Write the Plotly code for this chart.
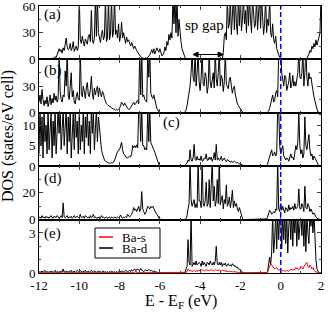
import plotly.graph_objects as go
from plotly.subplots import make_subplots

# ---------------- data (DOS sampled every 0.05 eV from -12 to 2) ----------------
STEP = 0.05

dos_a = ([0,0,0,0,0, 0,0,0,0,0, 0,0,0,0.5,1, 2,3,2,5,8] +
         [12,9,11,7,13, 10,16,24,14,11, 12,18,10,13,20, 9,12,15,10,14] +
         [70,22,18,26,20, 15,23,19,17,26, 28,20,55,22,18, 24,70,26,70,30] +
         [24,19,28,33,22, 26,70,20,24,70, 22,28,70,25,30, 70,28,33,24,40] +
         [20,26,42,24,30, 22,18,25,20,22, 17,15,19,14,12, 15,11,10,8,6] +
         [4,3,2,1,1, 1,2,1,2,3, 5,8,11,7,12, 6,9,13,10,8] +
         [12,6,4,5,7, 14,10,20,16,28, 22,30,24,70,40, 70,30,70,26,45] +
         [28,20,12,8,4, 2,1,0,0,0, 0,0,0,0,0, 0,0,0,0,0] +
         [0,0,0,0,0, 0,0,0,0,0, 0,0,0,0,0, 0,0,0,0,0] +
         [0,0,0,8,26, 30,22,70,35,40, 70,28,45,70,33, 70,40,28,70,38] +
         [70,32,45,70,40, 55,30,70,38,70, 45,30,70,55,36, 40,70,33,48,70] +
         [35,70,48,28,40, 70,30,45,38,70, 30,25,40,22,18, 26,12,8,4,2] +
         [0,0,0,0,0, 0,0,0,0,0, 0,0,0,0,0, 0,0,0,0,0] +
         [0,0,0,0,0, 0,1,3,6,10, 8,15,12,18,14, 22,16,20,26,30] +
         [70])

dos_b = ([12,20,10,26,15, 8,14,10,18,7, 12,20,9,16,11, 22,14,19,12,16] +
         [70,24,15,12,20, 18,47,30,70,20, 15,30,45,18,25, 12,10,18,23,15] +
         [14,70,22,18,30, 24,16,28,34,20, 18,26,41,22,15, 28,20,26,30,18] +
         [28,22,18,24,22, 16,12,10,9,8, 7,6,5,5,4, 4,3,4,3,4] +
         [5,8,12,10,8, 11,9,6,5,4, 4,6,8,10,12, 9,10,13,14,10] +
         [70,20,70,18,20, 15,14,12,70,40, 70,22,18,16,20, 14,8,5,3,1] +
         [0,0,0,0,0, 0,0,0,0,0, 0,0,0,0,0, 0,0,0,0,0] +
         [0,0,0,0,0, 1,3,8,15,22, 30,45,70,40,35, 70,30,45,70,35] +
         [25,40,70,32,30, 45,40,22,30,70, 35,28,40,45,28, 70,38,30,45,70] +
         [30,42,38,24,35, 70,32,28,27,38, 40,30,22,28,30, 20,14,10,8,6] +
         [4,2,1,0,0, 0,0,0,0,0, 0,0,0,0,0, 0,0,0,0,0] +
         [0,0,0,0,0, 0,0,1,2,5, 10,15,20,12,14, 22,25,18,70,70] +
         [70,45,38,30,42, 40,25,30,35,45, 28,32,42,30,35, 30,38,45,70,40] +
         [38,45,70,30,45, 70,40,30,45,38, 40,28,25,18,12, 8,4,1,0,0] +
         [0])

dos_c = ([3,14,5,12,2, 14,6,10,3,14, 4,9,13,2,11, 5,14,3,8,14] +
         [8,14,4,11,14, 5,9,14,3,12, 6,14,2,10,13, 4,14,7,11,3] +
         [14,4,10,6,14, 3,12,7,14,5, 11,3,14,8,13, 4,10,14,6,12] +
         [9.6,6,4,3,2, 1.5,1.2,1,1,0.8, 0.8,0.7,0.8,0.8,1, 1.5,2,3,3.5,4] +
         [4,5,5.8,4,3, 2.8,2.5,2,2,2.2, 2.5,2.3,3,5,4.5, 5,4.5,5.2,4.5,14] +
         [14,6,14,5,5, 4,4.5,4,14,6, 14,5.8,5,4.2,4, 3.4,2.5,1.5,0.8,0.4] +
         [0.2,0.1,0,0,0, 0,0,0,0,0, 0,0,0,0,0, 0,0,0,0,0] +
         [0,0,0,0,0, 0,0.5,0.8,1.5,1.2, 4,1.5,1.2,2,5.3, 1.6,1.4,2.4,1.5,1.8] +
         [1.4,2.5,1.2,1.3,2.0, 1.8,3.0,1.4,1.5,2.2, 1.6,2.2,1.2,1.8,3.3, 1.5,5.3,1.6,2.0,1.4] +
         [1.6,2.4,1.3,1.8,2.0, 1.4,1.1,1.6,1.4,1.2, 1.0,1.3,0.9,1.1,1.2, 1.0,0.8,0.9,0.7,0.6] +
         [0.6,0.5,0.3,0.1,0, 0,0,0,0,0, 0,0,0,0,0, 0,0,0,0,0] +
         [0,0,0,0,0, 0,0.2,0.5,1.5,2.5, 3,4,2.5,2.8,3.5, 2.5,3,14,14,5] +
         [3,4,5,2.5,2, 1.5,2,1.8,1.2,2.5, 3,2,2.2,1.5,3, 5,4,6,13,5] +
         [3,4,2,3,12, 5,4,6,7.7,4, 2.5,3,1.5,2.5,2, 1.5,1,0.5,0,0] +
         [0])

dos_d = ([1.5,2,1,3,1.5, 2,1,2.5,1.5,2, 1,2,3,1.5,1, 2.5,2,1.5,3,2] +
         [1,2,3,1.5,12.5, 2,1.5,2,3,1, 2,1.5,2.5,1,2, 3,1.5,2,2.5,1.5] +
         [2,4,1.5,2,2.5, 1,3,2,1.5,2, 1,3,1.5,2,4, 1.5,2,1,1.5,2] +
         [2,1,3,1.5,2, 1,1.5,2,1,1.5, 2,1,2,1.5,1, 2,1.5,1,2,1.5] +
         [2,3.5,1.5,1,2, 1.5,2,1.5,4,3, 2,3,4,6,9, 7,8,6,9,10] +
         [6,8,21,8,6, 4,5,8,10,9, 8,10,9,10,8, 6,5,4,2,1] +
         [0.3,0.1,0,0,0, 0,0,0,0,0, 0,0,0,0,0, 0,0,0,0,0] +
         [0,0,0,0,0, 0,1,3,8,12, 45,15,10,12,15, 9,12,9,45,14] +
         [14,9,45,12,10, 14,28,10,12,30, 9,26,45,14,25, 10,14,30,12,45] +
         [11,15,18,8,15, 12,26,10,12,17, 9,14,22,9,14, 10,12,8,6,9] +
         [6,3,1,0,0, 0,0,0,0,0, 0,0,0,0,0, 0,0,0,0,0] +
         [0,0,0,0,0, 0,0.5,2,5,7, 6,4,5,6,5, 8,7,45,8,6] +
         [12,7,10,8,5, 9,8,6,11,7, 9,8,10,7,12, 8,9,10,23,8] +
         [8,12,10,6,25, 9,8,12,10,6, 8,5,4,5,3, 2,1,0.5,0,0] +
         [0])

ba_d = ([0.05,0.1,0.05,0.15,0.05, 0.1,0.2,0.05,0.1,0.05, 0.1,0.05,0.15,0.1,0.05, 0.1,0.2,0.05,0.1,0.05] +
        [0.1,0.05,0.15,0.1,0.3, 0.1,0.05,0.15,0.1,0.05, 0.15,0.1,0.2,0.05,0.1, 0.15,0.05,0.1,0.2,0.1] +
        [0.05,0.2,0.1,0.05,0.15, 0.1,0.2,0.05,0.1,0.15, 0.05,0.1,0.2,0.1,0.05, 0.15,0.1,0.05,0.1,0.15] +
        [0.05,0.1,0.05,0.1,0.15, 0.05,0.1,0.05,0.1,0.05, 0.1,0.05,0.15,0.1,0.05, 0.1,0.05,0.1,0.05,0.1] +
        [0.1,0.05,0.1,0.15,0.05, 0.1,0.2,0.15,0.1,0.15, 0.2,0.1,0.25,0.15,0.2, 0.3,0.2,0.25,0.3,0.2] +
        [0.2,0.35,0.2,0.15,0.1, 0.2,0.25,0.15,0.2,0.25, 0.2,0.15,0.2,0.1,0.15, 0.1,0.1,0.05,0.05,0.02] +
        [0,0,0,0,0, 0,0,0,0,0, 0,0,0,0,0, 0,0,0,0,0] +
        [0,0,0,0,0, 0,0.3,0.5,2.5,0.8, 0.6,4.5,0.5,0.7,0.8, 0.6,0.9,0.6,0.7,0.8] +
        [0.7,0.5,0.9,0.6,0.8, 0.6,0.5,0.8,0.75,0.6, 0.9,0.7,0.6,0.8,0.6, 0.9,2.0,0.7,0.6,0.8] +
        [0.6,0.8,0.5,0.7,0.6, 0.75,0.5,0.6,0.7,0.55, 0.6,0.5,0.7,0.6,0.5, 0.55,0.4,0.45,0.3,0.3] +
        [0.2,0.1,0.05,0,0, 0,0,0,0,0, 0,0,0,0,0, 0,0,0,0,0] +
        [0,0,0,0,0, 0,0.02,0.1,0.5,1.2, 0.6,1.5,4.5,1.5,2.5, 4.5,1.8,4.5,2.5,4.5] +
        [4.5,1.8,4.5,2.5,4.5, 2.2,4.5,1.5,3.5,4.5, 2.5,4.5,2.0,4.5,3.0, 4.5,2.0,4.5,2.5,4.5] +
        [4.5,2.8,4.5,2.0,4.5, 1.6,4.5,3.0,2.2,4.5, 3.5,4.5,3.0,4.5,2.5, 1.0,0.3,0.1,0,0] +
        [0])

ba_s = ([0.02,0.02,0.02,0.02,0.02, 0.02,0.02,0.02,0.02,0.02, 0.02,0.02,0.02,0.02,0.02, 0.02,0.02,0.02,0.02,0.02] +
        [0.02,0.02,0.02,0.02,0.15, 0.02,0.02,0.02,0.02,0.02, 0.02,0.02,0.02,0.02,0.02, 0.02,0.02,0.02,0.02,0.02] +
        [0.02,0.02,0.02,0.02,0.02, 0.02,0.02,0.02,0.02,0.02, 0.02,0.02,0.02,0.02,0.02, 0.02,0.02,0.02,0.02,0.02] +
        [0.02,0.02,0.02,0.02,0.02, 0.02,0.02,0.02,0.02,0.02, 0.02,0.02,0.02,0.02,0.02, 0.02,0.02,0.02,0.02,0.02] +
        [0.02,0.02,0.02,0.02,0.02, 0.02,0.02,0.02,0.02,0.02, 0.02,0.02,0.02,0.02,0.02, 0.02,0.2,0.02,0.02,0.02] +
        [0.02,0.02,0.02,0.02,0.02, 0.02,0.02,0.02,0.02,0.02, 0.02,0.02,0.02,0.02,0.02, 0.02,0.02,0.02,0.01,0.01] +
        [0,0,0,0,0, 0,0,0,0,0, 0,0,0,0,0, 0,0,0,0,0] +
        [0,0,0,0,0, 0,0.05,0.1,0.3,0.2, 0.15,0.2,0.1,0.15,0.2, 0.12,0.15,0.2,0.18,0.2] +
        [0.15,0.2,0.25,0.2,0.15, 0.2,0.25,0.2,0.22,0.15, 0.2,0.25,0.2,0.15,0.2, 0.25,0.2,0.18,0.2,0.22] +
        [0.2,0.15,0.2,0.18,0.15, 0.12,0.15,0.12,0.1,0.12, 0.1,0.12,0.08,0.1,0.08, 0.06,0.06,0.05,0.05,0.04] +
        [0.04,0.03,0.02,0,0, 0,0,0,0,0, 0,0,0,0,0, 0,0,0,0,0] +
        [0,0,0,0,0, 0,0.02,0.05,0.3,0.5, 0.7,0.6,0.5,0.4,0.3, 0.35,0.4,0.3,0.2,0.25] +
        [0.3,0.2,0.15,0.2,0.1, 0.15,0.2,0.15,0.12,0.2, 0.3,0.25,0.2,0.3,0.25, 0.4,0.3,0.35,0.25,0.3] +
        [0.5,0.4,0.3,0.5,0.6, 0.7,0.8,0.5,0.4,0.6, 0.5,0.3,0.4,0.2,0.15, 0.05,0.02,0,0,0] +
        [0])

panel_labels = ["(a)", "(b)", "(c)", "(d)", "(e)"]
y_ranges = [[0, 60], [0, 60], [0, 13], [0, 40], [0, 4]]
y_tickvals = [[0, 30, 60], [0, 30], [0, 5, 10], [0, 20], [0, 3]]
y_minor = [15, 15, 2.5, 10, 1]
x_tickvals = [-12, -10, -8, -6, -4, -2, 0, 2]
x_ticktext = ["-12", "-10", "-8", "-6", "-4", "-2", "0", "2"]
legend_names = ["Ba-s", "Ba-d"]
gap_start, gap_end, gap_level = -4.35, -2.86, 5.5


def energies(values):
    return [round(-12 + STEP * i, 2) for i in range(len(values))]


W, H = 328, 312
L, R, T, B = 39, 7, 6, 39
PW, PH = W - L - R, H - T - B


def px(x):
    return (x - L) / PW


def py(y):
    return (H - B - y) / PH


FONT = "Liberation Serif, Times New Roman, serif"

fig = make_subplots(rows=5, cols=1, shared_xaxes=True, vertical_spacing=0)

for i, d in enumerate([dos_a, dos_b, dos_c, dos_d]):
    fig.add_trace(go.Scatter(x=energies(d), y=d, mode="lines",
                             line=dict(color="black", width=1),
                             showlegend=False), row=i + 1, col=1)
fig.add_trace(go.Scatter(x=energies(ba_d), y=ba_d, mode="lines", name=legend_names[1],
                         line=dict(color="black", width=1),
                         showlegend=False), row=5, col=1)
fig.add_trace(go.Scatter(x=energies(ba_s), y=ba_s, mode="lines", name=legend_names[0],
                         line=dict(color="red", width=1),
                         showlegend=False), row=5, col=1)

for i in range(5):
    fig.update_yaxes(row=i + 1, col=1, range=y_ranges[i], tickvals=y_tickvals[i],
                     ticks="inside", ticklen=4, showline=True, linecolor="black",
                     linewidth=1, mirror="ticks", showgrid=False, zeroline=False,
                     automargin=False, ticklabeloverflow="allow",
                     minor=dict(ticks="inside", ticklen=2, dtick=y_minor[i],
                                tick0=0, showgrid=False),
                     tickfont=dict(family=FONT, size=13, color="black"))
    fig.update_xaxes(row=i + 1, col=1, range=[-12, 2], tickvals=x_tickvals,
                     ticktext=x_ticktext,
                     ticks="inside", ticklen=4, showline=True, linecolor="black",
                     linewidth=1, mirror="ticks", showgrid=False, zeroline=False,
                     automargin=False, ticklabeloverflow="allow",
                     minor=dict(ticks="inside", ticklen=2, dtick=1, tick0=0,
                                showgrid=False),
                     showticklabels=(i == 4),
                     tickfont=dict(family=FONT, size=13, color="black"))

# Fermi level line
fig.add_shape(type="line", xref="x", yref="paper", x0=0, x1=0, y0=0, y1=1,
              line=dict(color="blue", width=1.5, dash="5px,3px"))

# panel labels
label_pos = [(42, 15), (42, 70), (161, 123), (42, 178), (42, 233)]
for lab, (lx, ly) in zip(panel_labels, label_pos):
    fig.add_annotation(text=lab, xref="paper", yref="paper", x=px(lx), y=py(ly),
                       xanchor="left", yanchor="middle", showarrow=False,
                       font=dict(family=FONT, size=15, color="black"))

# sp gap: text + double-headed arrow (shapes)
fig.add_annotation(text="sp gap", xref="x", yref="y", x=-3.76, y=39,
                   showarrow=False, font=dict(family=FONT, size=15, color="black"))
fig.add_shape(type="line", xref="x", yref="y", x0=gap_start, x1=gap_end,
              y0=gap_level, y1=gap_level, line=dict(color="black", width=1))
hx, hy = 0.25, 2.8
for tip, sgn in [(gap_start, 1), (gap_end, -1)]:
    fig.add_shape(type="path", xref="x", yref="y",
                  path=f"M {tip},{gap_level} L {tip + sgn * hx},{gap_level + hy} "
                       f"L {tip + sgn * hx},{gap_level - hy} Z",
                  fillcolor="black", line=dict(color="black", width=1))

# legend box (panel e)
fig.add_shape(type="rect", xref="paper", yref="paper", x0=px(95), x1=px(160),
              y0=py(258), y1=py(228), line=dict(color="black", width=1),
              fillcolor="white")
for name, col, ly in [(legend_names[0], "red", 237), (legend_names[1], "black", 248)]:
    fig.add_shape(type="line", xref="paper", yref="paper", x0=px(99), x1=px(113),
                  y0=py(ly), y1=py(ly), line=dict(color=col, width=1.5))
    fig.add_annotation(text=name, xref="paper", yref="paper", x=px(120), y=py(ly),
                       xanchor="left", yanchor="middle", showarrow=False,
                       font=dict(family=FONT, size=13, color="black"))

# axis titles
fig.add_annotation(text="E - E<sub>F</sub> (eV)", xref="paper", yref="paper",
                   x=px(181), y=py(301), xanchor="center", yanchor="middle",
                   showarrow=False, font=dict(family=FONT, size=16, color="black"))
fig.add_annotation(text="DOS (states/eV cell)", xref="paper", yref="paper",
                   x=px(8), y=py(136), xanchor="center", yanchor="middle",
                   textangle=-90, showarrow=False,
                   font=dict(family=FONT, size=16, color="black"))

fig.update_layout(width=W, height=H, margin=dict(l=L, r=R, t=T, b=B),
                  plot_bgcolor="white", paper_bgcolor="white", showlegend=False)

fig.write_html("out.html", config={"displayModeBar": False},
               post_script="document.body.style.margin='0';"
                           "document.body.style.overflow='hidden';")
